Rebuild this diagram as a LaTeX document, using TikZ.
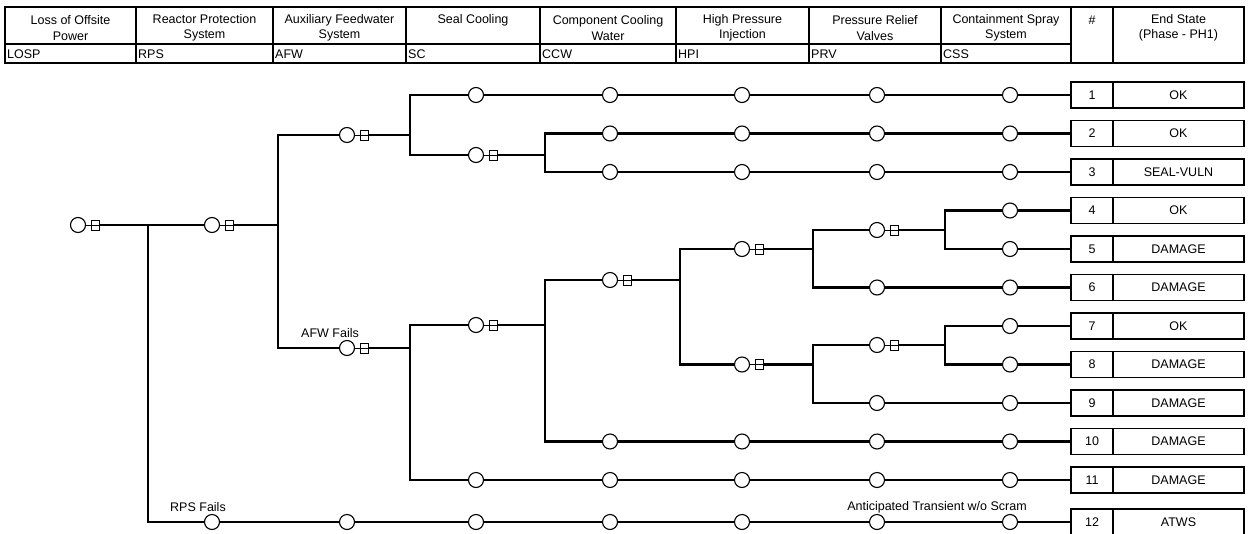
\documentclass[tikz,border=0pt]{standalone}
\usepackage{fontspec}
\setmainfont{Liberation Sans}
\usetikzlibrary{positioning}

\begin{document}
\begin{tikzpicture}[x=1pt, y=-1pt,
  font=\fontsize{12.5}{15.5}\selectfont,
  branch/.style={line width=2.8pt},
  rule/.style={line width=1.1pt},
  evt/.style={circle, draw, line width=1.1pt, minimum size=15pt, inner sep=0pt, fill=white},
  gate/.style={rectangle, draw, line width=0.8pt, minimum width=8pt, minimum height=10pt, inner sep=0pt,
    path picture={\draw[line width=0.6pt] (path picture bounding box.west) -- (path picture bounding box.east);}},
  numbox/.style={rectangle, draw, line width=1.1pt, minimum width=42pt, minimum height=26pt, inner sep=0pt},
  esbox/.style={rectangle, draw, line width=1.1pt, minimum width=131pt, minimum height=26pt, inner sep=0pt},
  head/.style={align=center, inner sep=0pt},
  code/.style={anchor=west, inner sep=0pt}]
\useasboundingbox (0,0) rectangle (1249,533);

% =====================
% TABELLA INTESTAZIONE
% =====================
\draw[rule] (5,7) rectangle (1244,63);
\draw[rule] (5,44) -- (1071,44);
\draw[rule] (136,7) -- (136,63);
\draw[rule] (273,7) -- (273,63);
\draw[rule] (406,7) -- (406,63);
\draw[rule] (540,7) -- (540,63);
\draw[rule] (676,7) -- (676,63);
\draw[rule] (809,7) -- (809,63);
\draw[rule] (941,7) -- (941,63);
\draw[rule] (1071,7) -- (1071,63);
\draw[rule] (1113,7) -- (1113,63);

\node[head] (hLOSP) at (70.5,28) {Loss of Offsite\\Power};
\node[head] (hRPS) at (204.5,28) {Reactor Protection\\System};
\node[head] (hAFW) at (339.5,28) {Auxiliary Feedwater\\System};
\node[head] (hSC) at (473,20) {Seal Cooling};
\node[head] (hCCW) at (608,28) {Component Cooling\\Water};
\node[head] (hHPI) at (742.5,28) {High Pressure\\Injection};
\node[head] (hPRV) at (875,28) {Pressure Relief\\Valves};
\node[head] (hCSS) at (1006,28) {Containment Spray\\System};
\node[head] (hNUM) at (1092,20) {\#};
\node[head] (hEND) at (1178.5,28) {End State\\(Phase - PH1)};

\node[code] (cLOSP) at (7,54) {LOSP};
\node[code] (cRPS) at (138,54) {RPS};
\node[code] (cAFW) at (275,54) {AFW};
\node[code] (cSC) at (408,54) {SC};
\node[code] (cCCW) at (542,54) {CCW};
\node[code] (cHPI) at (678,54) {HPI};
\node[code] (cPRV) at (811,54) {PRV};
\node[code] (cCSS) at (943,54) {CSS};

% =====================
% STATI FINALI
% =====================
\node[numbox] (n1) at (1092,95) {1};
\node[esbox] (e1) at (1178.5,95) {OK};
\node[numbox] (n2) at (1092,133.5) {2};
\node[esbox] (e2) at (1178.5,133.5) {OK};
\node[numbox] (n3) at (1092,172) {3};
\node[esbox] (e3) at (1178.5,172) {SEAL-VULN};
\node[numbox] (n4) at (1092,210.5) {4};
\node[esbox] (e4) at (1178.5,210.5) {OK};
\node[numbox] (n5) at (1092,249) {5};
\node[esbox] (e5) at (1178.5,249) {DAMAGE};
\node[numbox] (n6) at (1092,287.5) {6};
\node[esbox] (e6) at (1178.5,287.5) {DAMAGE};
\node[numbox] (n7) at (1092,326) {7};
\node[esbox] (e7) at (1178.5,326) {OK};
\node[numbox] (n8) at (1092,364.5) {8};
\node[esbox] (e8) at (1178.5,364.5) {DAMAGE};
\node[numbox] (n9) at (1092,403) {9};
\node[esbox] (e9) at (1178.5,403) {DAMAGE};
\node[numbox] (n10) at (1092,441.5) {10};
\node[esbox] (e10) at (1178.5,441.5) {DAMAGE};
\node[numbox] (n11) at (1092,480) {11};
\node[esbox] (e11) at (1178.5,480) {DAMAGE};
\node[numbox] (n12) at (1092,522) {12};
\node[esbox] (e12) at (1178.5,522) {ATWS};

% =====================
% NODI DI DIRAMAZIONE
% =====================
\node[evt] (losp) at (78,225) {};
\node[gate, right=5pt of losp] (lospg) {};
\node[evt] (rps) at (212,225) {};
\node[gate, right=5pt of rps] (rpsg) {};
\node[evt] (afw) at (347,135) {};
\node[gate, right=5pt of afw] (afwg) {};
\node[evt] (afwf) at (347,348) {};
\node[gate, right=5pt of afwf] (afwfg) {};
\node[evt] (sc2) at (476,155) {};
\node[gate, right=5pt of sc2] (sc2g) {};
\node[evt] (sc3) at (476,325) {};
\node[gate, right=5pt of sc3] (sc3g) {};
\node[evt] (ccw) at (610,280) {};
\node[gate, right=5pt of ccw] (ccwg) {};
\node[evt] (hpi1) at (742,249) {};
\node[gate, right=5pt of hpi1] (hpi1g) {};
\node[evt] (hpi2) at (742,364.5) {};
\node[gate, right=5pt of hpi2] (hpi2g) {};
\node[evt] (prv1) at (877,230) {};
\node[gate, right=5pt of prv1] (prv1g) {};
\node[evt] (prv2) at (877,345) {};
\node[gate, right=5pt of prv2] (prv2g) {};

\draw[line width=0.8pt] (losp) -- (lospg);
\draw[line width=0.8pt] (rps) -- (rpsg);
\draw[line width=0.8pt] (afw) -- (afwg);
\draw[line width=0.8pt] (afwf) -- (afwfg);
\draw[line width=0.8pt] (sc2) -- (sc2g);
\draw[line width=0.8pt] (sc3) -- (sc3g);
\draw[line width=0.8pt] (ccw) -- (ccwg);
\draw[line width=0.8pt] (hpi1) -- (hpi1g);
\draw[line width=0.8pt] (hpi2) -- (hpi2g);
\draw[line width=0.8pt] (prv1) -- (prv1g);
\draw[line width=0.8pt] (prv2) -- (prv2g);

% =====================
% NODI DI PASSAGGIO
% =====================
\node[evt] (r1c4) at (476,95) {};
\node[evt] (r1c5) at (610,95) {};
\node[evt] (r1c6) at (742,95) {};
\node[evt] (r1c7) at (877,95) {};
\node[evt] (r1c8) at (1010,95) {};
\node[evt] (r2c5) at (610,133.5) {};
\node[evt] (r2c6) at (742,133.5) {};
\node[evt] (r2c7) at (877,133.5) {};
\node[evt] (r2c8) at (1010,133.5) {};
\node[evt] (r3c5) at (610,172) {};
\node[evt] (r3c6) at (742,172) {};
\node[evt] (r3c7) at (877,172) {};
\node[evt] (r3c8) at (1010,172) {};
\node[evt] (r4c8) at (1010,210.5) {};
\node[evt] (r5c8) at (1010,249) {};
\node[evt] (r6c7) at (877,287.5) {};
\node[evt] (r6c8) at (1010,287.5) {};
\node[evt] (r7c8) at (1010,326) {};
\node[evt] (r8c8) at (1010,364.5) {};
\node[evt] (r9c7) at (877,403) {};
\node[evt] (r9c8) at (1010,403) {};
\node[evt] (r10c5) at (610,441.5) {};
\node[evt] (r10c6) at (742,441.5) {};
\node[evt] (r10c7) at (877,441.5) {};
\node[evt] (r10c8) at (1010,441.5) {};
\node[evt] (r11c4) at (476,480) {};
\node[evt] (r11c5) at (610,480) {};
\node[evt] (r11c6) at (742,480) {};
\node[evt] (r11c7) at (877,480) {};
\node[evt] (r11c8) at (1010,480) {};
\node[evt] (r12c2) at (212,522) {};
\node[evt] (r12c3) at (347,522) {};
\node[evt] (r12c4) at (476,522) {};
\node[evt] (r12c5) at (610,522) {};
\node[evt] (r12c6) at (742,522) {};
\node[evt] (r12c7) at (877,522) {};
\node[evt] (r12c8) at (1010,522) {};

% =====================
% PUNTI DI DIRAMAZIONE
% =====================
\coordinate (b1) at (148,225);
\coordinate (b1d) at (148,522);
\coordinate (b2) at (278,225);
\coordinate (b2u) at (278,135);
\coordinate (b2d) at (278,348);
\coordinate (b3) at (410,135);
\coordinate (b3u) at (410,95);
\coordinate (b3d) at (410,155);
\coordinate (b4) at (545,155);
\coordinate (b4u) at (545,133.5);
\coordinate (b4d) at (545,172);
\coordinate (b5) at (410,348);
\coordinate (b5u) at (410,325);
\coordinate (b5d) at (410,480);
\coordinate (b6) at (545,325);
\coordinate (b6u) at (545,280);
\coordinate (b6d) at (545,441.5);
\coordinate (b7) at (680,280);
\coordinate (b7u) at (680,249);
\coordinate (b7d) at (680,364.5);
\coordinate (b8) at (813,249);
\coordinate (b8u) at (813,230);
\coordinate (b8d) at (813,287.5);
\coordinate (b9) at (945,230);
\coordinate (b9u) at (945,210.5);
\coordinate (b9d) at (945,249);
\coordinate (b10) at (813,364.5);
\coordinate (b10u) at (813,345);
\coordinate (b10d) at (813,403);
\coordinate (b11) at (945,345);
\coordinate (b11u) at (945,326);
\coordinate (b11d) at (945,364.5);

% =====================
% RAMI
% =====================
\draw[branch] (lospg) -- (b1);
\draw[branch] (rps) -- (b1) -- (b1d) -- (r12c2);
\draw[branch] (rpsg) -- (b2);
\draw[branch] (afw) -- (b2u) -- (b2d) -- (afwf);
\draw[branch] (afwg) -- (b3);
\draw[branch] (r1c4) -- (b3u) -- (b3d) -- (sc2);
\draw[branch] (sc2g) -- (b4);
\draw[branch] (r2c5) -- (b4u) -- (b4d) -- (r3c5);
\draw[branch] (afwfg) -- (b5);
\draw[branch] (sc3) -- (b5u) -- (b5d) -- (r11c4);
\draw[branch] (sc3g) -- (b6);
\draw[branch] (ccw) -- (b6u) -- (b6d) -- (r10c5);
\draw[branch] (ccwg) -- (b7);
\draw[branch] (hpi1) -- (b7u) -- (b7d) -- (hpi2);
\draw[branch] (hpi1g) -- (b8);
\draw[branch] (prv1) -- (b8u) -- (b8d) -- (r6c7);
\draw[branch] (prv1g) -- (b9);
\draw[branch] (r4c8) -- (b9u) -- (b9d) -- (r5c8);
\draw[branch] (hpi2g) -- (b10);
\draw[branch] (prv2) -- (b10u) -- (b10d) -- (r9c7);
\draw[branch] (prv2g) -- (b11);
\draw[branch] (r7c8) -- (b11u) -- (b11d) -- (r8c8);

% =====================
% SEQUENZE
% =====================
\draw[branch] (r1c4) -- (r1c5) -- (r1c6) -- (r1c7) -- (r1c8) -- (n1);
\draw[branch] (r2c5) -- (r2c6) -- (r2c7) -- (r2c8) -- (n2);
\draw[branch] (r3c5) -- (r3c6) -- (r3c7) -- (r3c8) -- (n3);
\draw[branch] (r4c8) -- (n4);
\draw[branch] (r5c8) -- (n5);
\draw[branch] (r6c7) -- (r6c8) -- (n6);
\draw[branch] (r7c8) -- (n7);
\draw[branch] (r8c8) -- (n8);
\draw[branch] (r9c7) -- (r9c8) -- (n9);
\draw[branch] (r10c5) -- (r10c6) -- (r10c7) -- (r10c8) -- (n10);
\draw[branch] (r11c4) -- (r11c5) -- (r11c6) -- (r11c7) -- (r11c8) -- (n11);
\draw[branch] (r12c2) -- (r12c3) -- (r12c4) -- (r12c5) -- (r12c6) -- (r12c7) -- (r12c8) -- (n12);

% =====================
% ETICHETTE
% =====================
\node (afwlbl) at (330,333) {AFW Fails};
\node (rpslbl) at (198,507) {RPS Fails};
\node (atwslbl) at (937,507) {Anticipated Transient w/o Scram};

\end{tikzpicture}
\end{document}
